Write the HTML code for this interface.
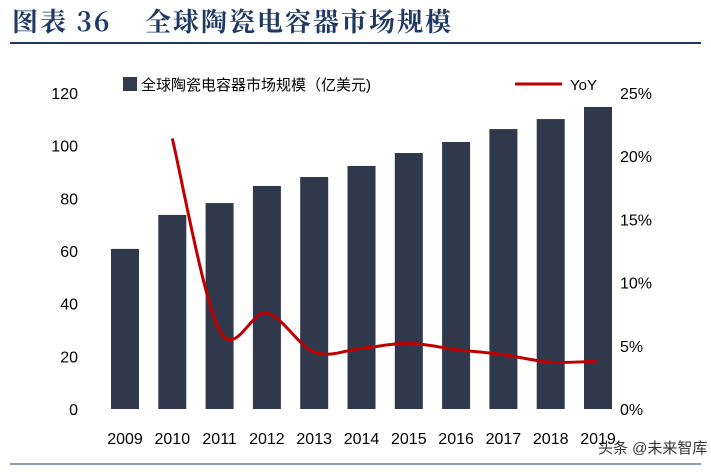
<!DOCTYPE html>
<html><head><meta charset="utf-8"><style>
body{margin:0;background:#fff;width:711px;height:471px;overflow:hidden;font-family:"Liberation Sans","Noto Sans CJK SC",sans-serif}
</style></head><body>
<svg width="711" height="471" font-family="Liberation Sans, Noto Sans CJK SC, sans-serif">
<text x="12" y="31" font-size="26" font-weight="bold" fill="#1f3864" letter-spacing="2" font-family="Noto Serif CJK SC, Noto Sans CJK SC, serif">图表 36</text>
<text x="145" y="31" font-size="26" font-weight="bold" fill="#1f3864" letter-spacing="2" font-family="Noto Serif CJK SC, Noto Sans CJK SC, serif">全球陶瓷电容器市场规模</text>
<line x1="10" y1="43" x2="701" y2="43" stroke="#1f3864" stroke-width="2"/>
<line x1="10" y1="464" x2="701" y2="464" stroke="#1f3864" stroke-width="1"/>
<g id="g"></g>
<rect x="123" y="77" width="14" height="14" fill="#323c4e"/>
<text x="141" y="90" font-size="15" fill="#000">全球陶瓷电容器市场规模（亿美元)</text>
<line x1="515" y1="84" x2="562" y2="84" stroke="#c00000" stroke-width="3"/>
<text x="570" y="90" font-size="15">YoY</text>
<text x="598" y="453" font-size="15" fill="#333">头条 @未来智库</text>
</svg>
<script>
const years=["2009","2010","2011","2012","2013","2014","2015","2016","2017","2018","2019"];
const sizes=[60.8,73.7,78.2,84.7,88.1,92.3,97.2,101.4,106.3,110.1,114.7];
const yoy=[null,21.4,6.2,7.6,4.5,4.8,5.2,4.7,4.3,3.7,3.8];
const leftTicks=[0,20,40,60,80,100,120];
const rightTicks=[0,5,10,15,20,25];
const NS="http://www.w3.org/2000/svg",g=document.getElementById('g');
const y0=409,y1=93;
const yL=v=>y0-(v/120)*(y0-y1), yR=v=>y0-(v/25)*(y0-y1), xC=i=>125+i*47.3;
function mk(t,a){const e=document.createElementNS(NS,t);for(const k in a)e.setAttribute(k,a[k]);g.appendChild(e);return e;}
leftTicks.forEach(v=>{const e=mk('text',{x:78,y:yL(v)+6,'font-size':16,'text-anchor':'end'});e.textContent=v;

});
rightTicks.forEach(v=>{const e=mk('text',{x:620,y:yR(v)+6,'font-size':16});e.textContent=v+'%';

});
sizes.forEach((v,i)=>{const r=mk('rect',{x:xC(i)-14,y:yL(v),width:28,height:y0-yL(v),fill:'#2f394b'});

});
years.forEach((y,i)=>{const e=mk('text',{x:xC(i),y:444,'font-size':16,'text-anchor':'middle'});e.textContent=y;

});
const pts=[];yoy.forEach((v,i)=>{if(v!=null)pts.push([xC(i),yR(v)]);});
let d='M'+pts[0][0]+','+pts[0][1];
for(let i=0;i<pts.length-1;i++){const p0=pts[i-1]||pts[i],p1=pts[i],p2=pts[i+1],p3=pts[i+2]||p2;
d+=' C'+(p1[0]+(p2[0]-p0[0])/6)+','+(p1[1]+(p2[1]-p0[1])/6)+' '+(p2[0]-(p3[0]-p1[0])/6)+','+(p2[1]-(p3[1]-p1[1])/6)+' '+p2[0]+','+p2[1];}
const l=mk('path',{d:d,fill:'none',stroke:'#c00000','stroke-width':3});


</script>
</body></html>
